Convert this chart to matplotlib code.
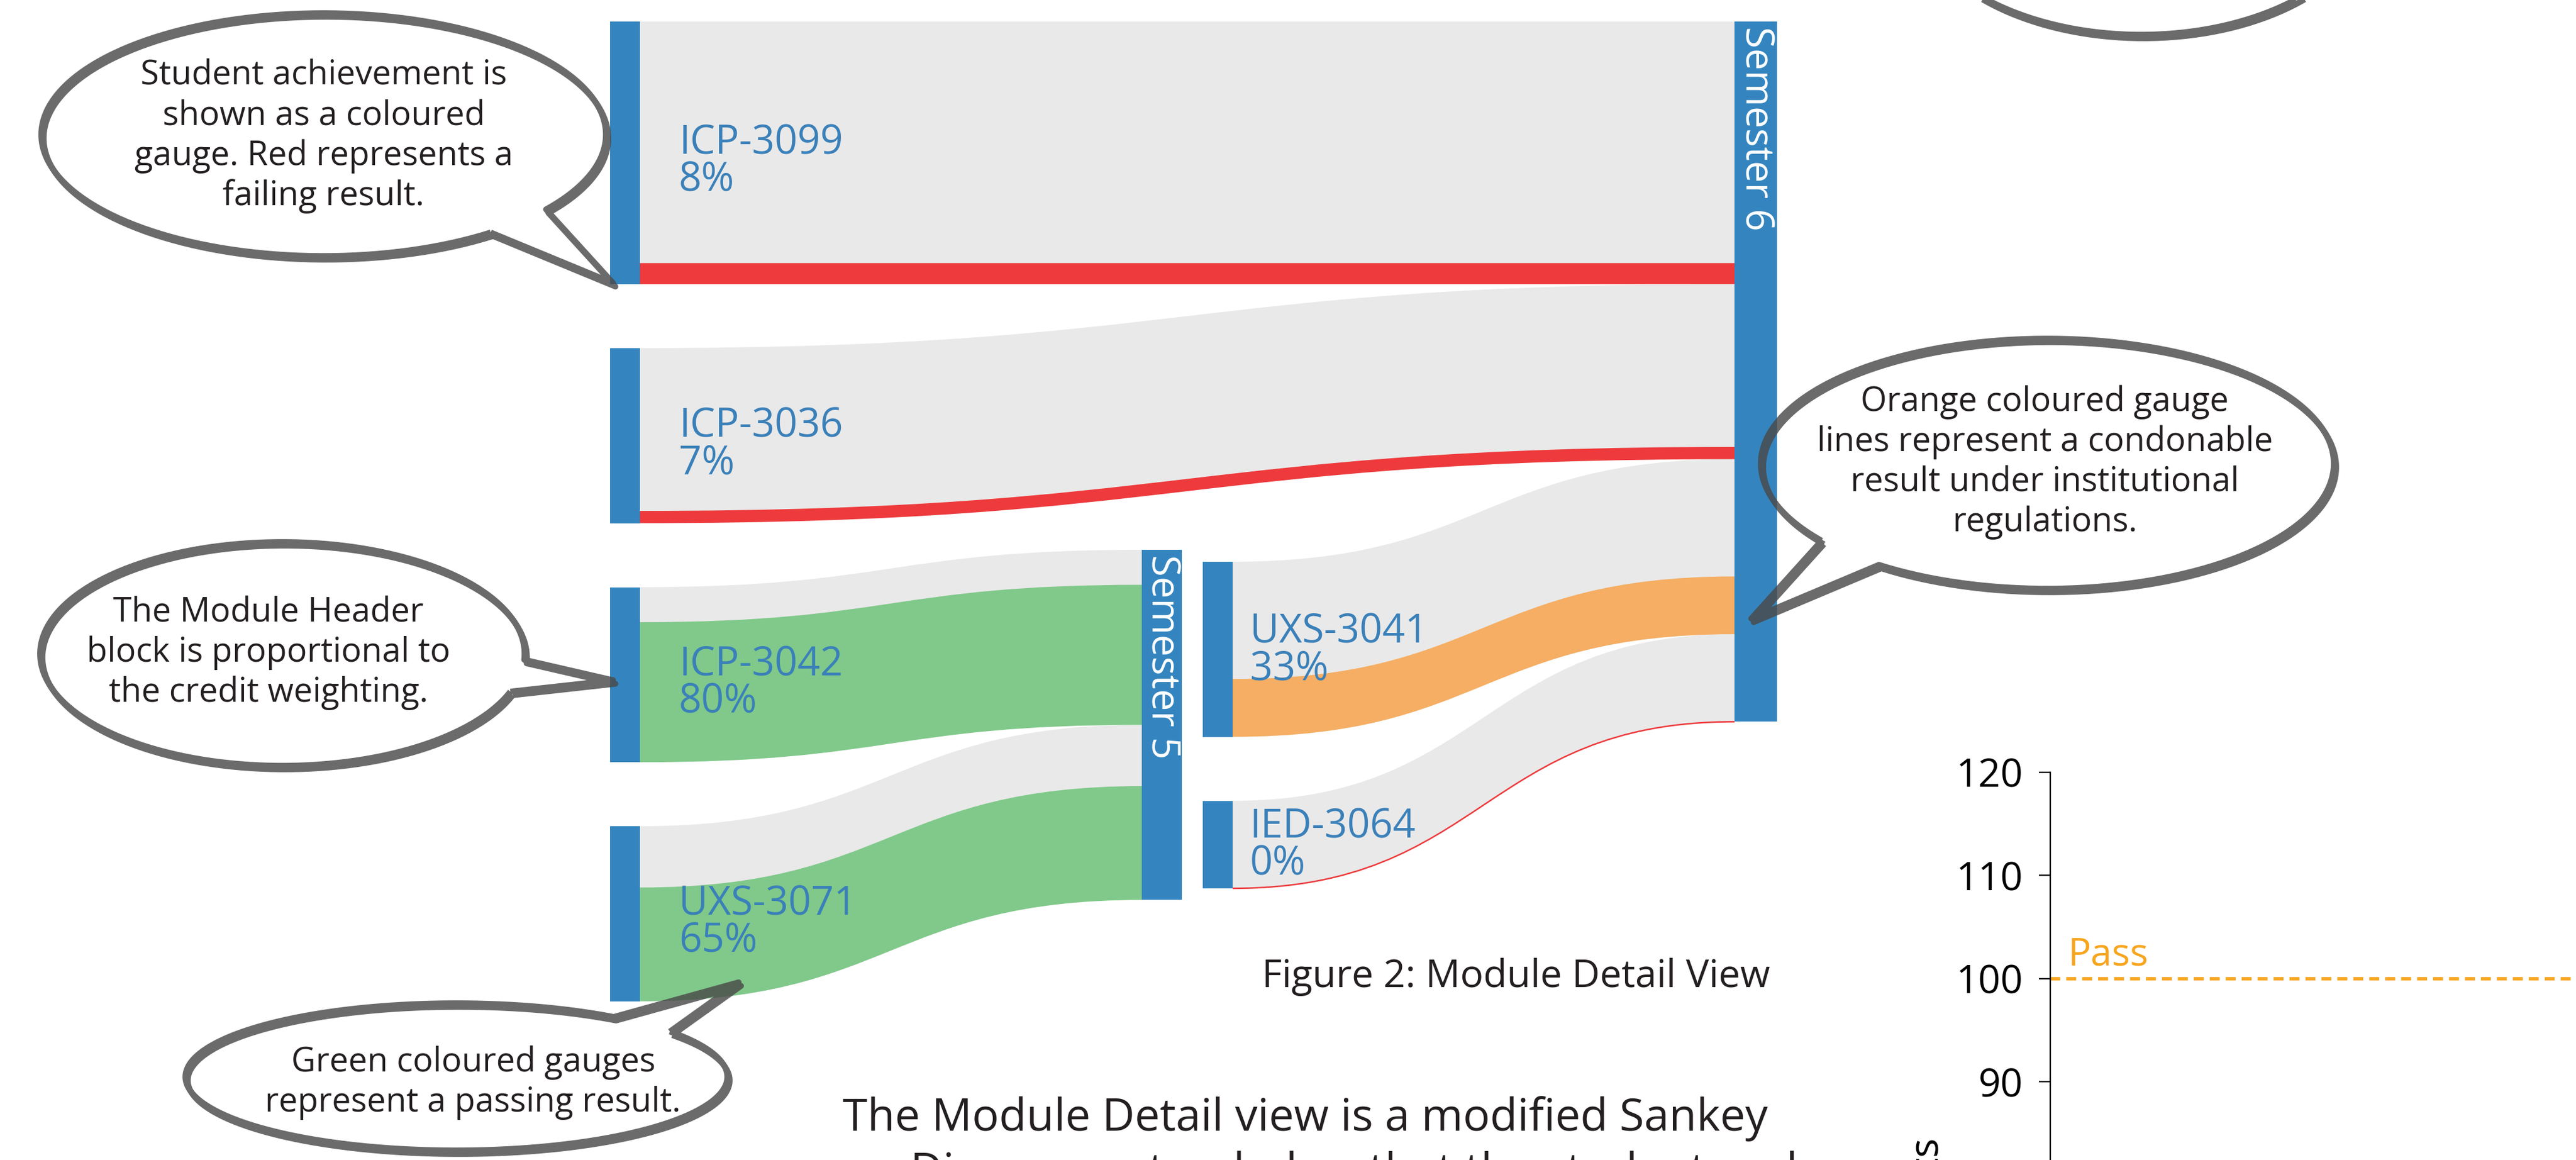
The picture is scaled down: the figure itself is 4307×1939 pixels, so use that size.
import numpy as np
import matplotlib.pyplot as plt
from matplotlib.path import Path
from matplotlib.patches import PathPatch, Rectangle
from matplotlib import transforms

plt.rcParams['font.family'] = ['Open Sans', 'DejaVu Sans']

# values
modules = ['ICP-3099', 'ICP-3036', 'ICP-3042', 'UXS-3071', 'UXS-3041', 'IED-3064']
credits = [30, 20, 20, 20, 20, 10]
scores = [8, 7, 80, 65, 33, 0]
semesters = ['Semester 6', 'Semester 6', 'Semester 5', 'Semester 5', 'Semester 6', 'Semester 6']
pass_mark = 100
yticks = [60, 70, 80, 90, 100, 110, 120]

W, H = 4307, 1939
fig = plt.figure(figsize=(W / 100, H / 100), dpi=100)
ax = fig.add_axes([0, 0, 1, 1])
ax.set_xlim(0, W)
ax.set_ylim(H, 0)
ax.axis('off')

BLUE = '#3485bf'
LABEL = '#3a80b9'
LINK = '#e9e9e9'
TXT = '#231f20'
EDGE = '#4a4a4a'


def gauge_col(s):
    if s >= 40:
        return '#80c98a'
    if s >= 30:
        return '#f5ae63'
    return '#ee3a3c'


def band(xa, ya0, ya1, xb, yb0, yb1, color, z=1):
    xm = (xa + xb) / 2
    verts = [(xa, ya0), (xm, ya0), (xm, yb0), (xb, yb0), (xb, yb1),
             (xm, yb1), (xm, ya1), (xa, ya1), (xa, ya0)]
    codes = [Path.MOVETO, Path.CURVE4, Path.CURVE4, Path.CURVE4, Path.LINETO,
             Path.CURVE4, Path.CURVE4, Path.CURVE4, Path.CLOSEPOLY]
    ax.add_patch(PathPatch(Path(verts, codes), fc=color, ec='none', zorder=z))


def edge_line(xa, ya, xb, yb, color):
    xm = (xa + xb) / 2
    p = Path([(xa, ya), (xm, ya), (xm, yb), (xb, yb)],
             [Path.MOVETO, Path.CURVE4, Path.CURVE4, Path.CURVE4])
    ax.add_patch(PathPatch(p, fc='none', ec=color, lw=1.8, zorder=3))


# layout
k = 14.63          # px per credit
gap = 107
col_x = {'a': (1020, 1070), 'b': (2011, 2061)}
mod_col = ['a', 'a', 'a', 'a', 'b', 'b']
col_top = {'a': 36, 'b': 939}
sem_x = {'Semester 5': (1909, 1976), 'Semester 6': (2900, 2971)}
sem_top = {'Semester 5': 919, 'Semester 6': 36}
lab_dx = {'a': 65, 'b': 29}
lab_dy = {'a': 2, 'b': -11}

cursor = dict(col_top)
sem_cursor = dict(sem_top)
for name, cr, sc, sem, col in zip(modules, credits, scores, semesters, mod_col):
    h = cr * k
    x0, x1 = col_x[col]
    y0 = cursor[col]
    cursor[col] += h + gap
    tx0, tx1 = sem_x[sem]
    ty0 = sem_cursor[sem]
    sem_cursor[sem] += h
    band(x1, y0, y0 + h, tx0, ty0, ty0 + h, LINK)
    g = h * sc / 100
    if sc > 0:
        band(x1, y0 + h - g, y0 + h, tx0, ty0 + h - g, ty0 + h, gauge_col(sc), z=2)
    else:
        edge_line(x1, y0 + h, tx0, ty0 + h, gauge_col(sc))
    ax.add_patch(Rectangle((x0, y0), x1 - x0, h, fc=BLUE, ec='none', zorder=4))
    cy = y0 + h / 2 + lab_dy[col]
    ax.text(x1 + lab_dx[col], cy, name, color=LABEL, fontsize=48, va='baseline', ha='left', zorder=5)
    ax.text(x1 + lab_dx[col], cy + 62, f'{sc}%', color=LABEL, fontsize=48, va='baseline', ha='left', zorder=5)

for sem in sem_x:
    x0, x1 = sem_x[sem]
    ax.add_patch(Rectangle((x0, sem_top[sem]), x1 - x0, sem_cursor[sem] - sem_top[sem],
                           fc=BLUE, ec='none', zorder=4))
    ax.text((x0 + x1) / 2, sem_top[sem] + 8, sem, color='white', fontsize=47,
            rotation=-90, ha='center', va='top', zorder=5)


# speech bubbles
def bubble(cx, cy, a, b, t0, t1, tip=None, shift=(4, 6)):
    t = np.radians(np.linspace(t0, t1, 300))
    pts = np.column_stack([cx + a * np.cos(t), cy + b * np.sin(t)])
    if tip is not None:
        pts = np.vstack([pts, tip, pts[:1]])
    p = Path.make_compound_path(Path(pts), Path(pts + np.array(shift)))
    ax.add_patch(PathPatch(p, fc='none', ec=EDGE, alpha=0.82, lw=7,
                           joinstyle='round', zorder=8))


def bubble_text(x, y, lines, step=67, size=40.5):
    for i, s in enumerate(lines):
        ax.text(x, y + i * step, s, color=TXT, fontsize=size, ha='center',
                va='baseline', zorder=9)


bubble(541, 225, 472, 203, 53.7, 398, tip=(1025, 473))
bubble_text(541, 142, ['Student achievement is', 'shown as a coloured',
                       'gauge. Red represents a', 'failing result.'])

bubble(472, 1093, 405, 187, 19.7, 363, tip=(1025, 1137))
bubble_text(449, 1039, ['The Module Header', 'block is proportional to',
                        'the credit weighting.'])

bubble(763, 1800, 453, 123, -38, 305.5, tip=(1235, 1642))
bubble_text(791, 1791, ['Green coloured gauges', 'represent a passing result.'])

bubble(3423, 775, 479, 209, 142, 486, tip=(2928, 1034))
bubble_text(3419, 687, ['Orange coloured gauge', 'lines represent a condonable',
                        'result under institutional', 'regulations.'])

bubble(3580, -170, 385, 228, 0, 360)

# captions / body text
ax.text(2960, 1650, 'Figure 2: Module Detail View', color=TXT, fontsize=46.4,
        ha='right', va='baseline')
ax.text(2182, 1890, 'The Module Detail view is a modified Sankey', color=TXT,
        fontsize=54, ha='center', va='baseline')
ax.text(1522, 1981, 'Diagram extended so that the student and', color=TXT,
        fontsize=54, ha='left', va='baseline')

# results axis on the right
ax2 = fig.add_axes([3428 / W, (H - 2325) / H, (W - 3428) / W, 1034 / H])
ax2.set_ylim(60, 120)
ax2.set_xlim(0, 1)
ax2.set_yticks(yticks)
ax2.set_xticks([])
for sp in ['top', 'right', 'bottom']:
    ax2.spines[sp].set_visible(False)
ax2.spines['left'].set_linewidth(1.7)
ax2.tick_params(axis='y', length=14, width=1.7, pad=19, labelsize=47, labelcolor='black')
ax2.axhline(pass_mark, color='#f7a51e', lw=4, ls=(0, (3, 1.8)))
tr = transforms.blended_transform_factory(ax2.transAxes, ax2.transData)
ax2.text(0.034, pass_mark + 1.28, 'Pass', color='#f7a51e', fontsize=46,
         transform=tr, va='baseline', ha='left')
ax2.set_ylabel('Credits', fontsize=49, va='baseline', ha='right')
ax2.yaxis.set_label_coords(-0.2173, 0.414)

fig.savefig('out.png', dpi=100)
